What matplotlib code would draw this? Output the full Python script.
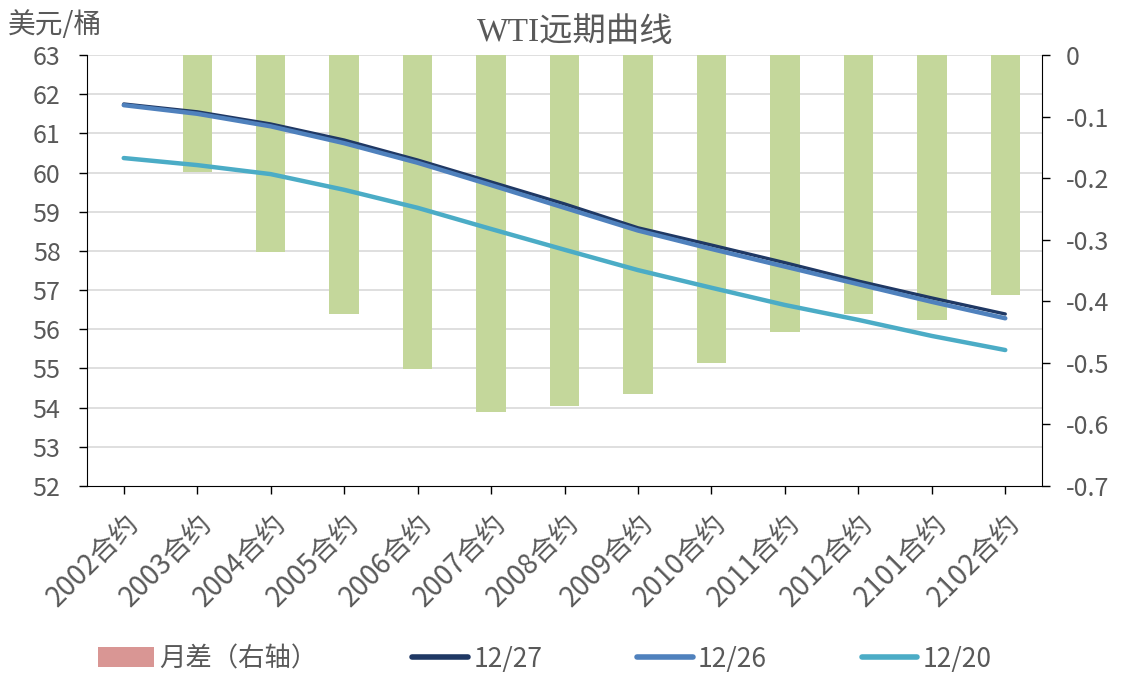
import matplotlib
matplotlib.use("Agg")
from matplotlib import pyplot as plt
from matplotlib.patches import Patch
from matplotlib.lines import Line2D

plt.rcParams['font.family'] = ['Noto Sans CJK SC', 'DejaVu Sans']

# 合约
contracts = ['2002合约', '2003合约', '2004合约', '2005合约', '2006合约', '2007合约',
             '2008合约', '2009合约', '2010合约', '2011合约', '2012合约', '2101合约', '2102合约']

# 月差（右轴）
spread = [0, -0.19, -0.32, -0.42, -0.51, -0.58, -0.57, -0.55, -0.50, -0.45, -0.42, -0.43, -0.39]

# 远期曲线
curve_1227 = [61.75, 61.55, 61.24, 60.83, 60.32, 59.76, 59.20, 58.59, 58.15, 57.70, 57.23, 56.80, 56.39]
curve_1226 = [61.72, 61.50, 61.18, 60.75, 60.25, 59.68, 59.10, 58.52, 58.05, 57.60, 57.15, 56.70, 56.28]
curve_1220 = [60.37, 60.19, 59.96, 59.56, 59.10, 58.56, 58.03, 57.51, 57.06, 56.62, 56.24, 55.83, 55.47]

gris = '#595959'

fig = plt.figure(figsize=(11.23, 6.81), dpi=100)
ax = fig.add_axes([87 / 1123, 1 - 486 / 681, (1042 - 87) / 1123, (486 - 55) / 681])
ax2 = ax.twinx()

x = list(range(len(contracts)))

# barras en el eje derecho, detras de las lineas
ax2.bar(x, spread, width=0.4, color='#c4d79b', zorder=1)
ax2.set_ylim(-0.7, 0)
ax2.set_yticks([0, -0.1, -0.2, -0.3, -0.4, -0.5, -0.6, -0.7])
ax2.set_yticklabels(['0', '-0.1', '-0.2', '-0.3', '-0.4', '-0.5', '-0.6', '-0.7'])

# lineas de cuadricula en ax2 para que queden debajo de las barras
for v in range(53, 64):
    ax2.axhline(-0.7 + (v - 52) * 0.7 / 11, color='#d9d9d9', lw=1.2, zorder=0)

ax.set_zorder(ax2.get_zorder() + 1)
ax.patch.set_visible(False)

ax.plot(x, curve_1220, color='#4bacc6', lw=3.2, solid_capstyle='round', zorder=3)
ax.plot(x, curve_1226, color='#4f81bd', lw=3.2, solid_capstyle='round', zorder=4)
ax.plot(x, curve_1227, color='#1f3864', lw=2.4, solid_capstyle='round', zorder=3.5)

ax.set_ylim(52, 63)
ax.set_yticks(range(52, 64))
ax.set_xlim(-0.5, len(contracts) - 0.5)
ax.set_xticks(x)
ax.set_xticklabels(contracts, rotation=45, ha='right', rotation_mode='anchor')

for a in (ax, ax2):
    a.tick_params(axis='both', labelsize=18, labelcolor=gris, color='black', length=6, width=1)
    for s in a.spines.values():
        s.set_visible(False)
ax.tick_params(axis='x', pad=10, labelsize=20)
ax.tick_params(axis='y', pad=13)
ax2.tick_params(axis='y', pad=11)

ax.spines['left'].set_visible(True)
ax.spines['bottom'].set_visible(True)
ax2.spines['right'].set_visible(True)

fig.text(8 / 1123, 1 - 25 / 681, '美元/桶', fontsize=20, color=gris, va='center', ha='left')
fig.text(575 / 1123, 1 - 33 / 681, 'WTI远期曲线', fontsize=24, color=gris, va='center', ha='center',
         family=['Liberation Serif', 'Noto Sans CJK SC'])

handles = [
    Patch(facecolor='#d99694', edgecolor='none'),
    Line2D([0], [0], color='#1f3864', lw=4, solid_capstyle='round'),
    Line2D([0], [0], color='#4f81bd', lw=4, solid_capstyle='round'),
    Line2D([0], [0], color='#4bacc6', lw=4, solid_capstyle='round'),
]
labels = ['月差（右轴）', '12/27', '12/26', '12/20']
leg = fig.legend(handles, labels, loc='center', bbox_to_anchor=(545 / 1123, 1 - 659 / 681), ncol=4,
                 frameon=False, fontsize=19, handlelength=2.1, handleheight=0.8, handletextpad=0.2,
                 columnspacing=3.6)
for t in leg.get_texts():
    t.set_color(gris)

fig.savefig('out.png', dpi=100)
